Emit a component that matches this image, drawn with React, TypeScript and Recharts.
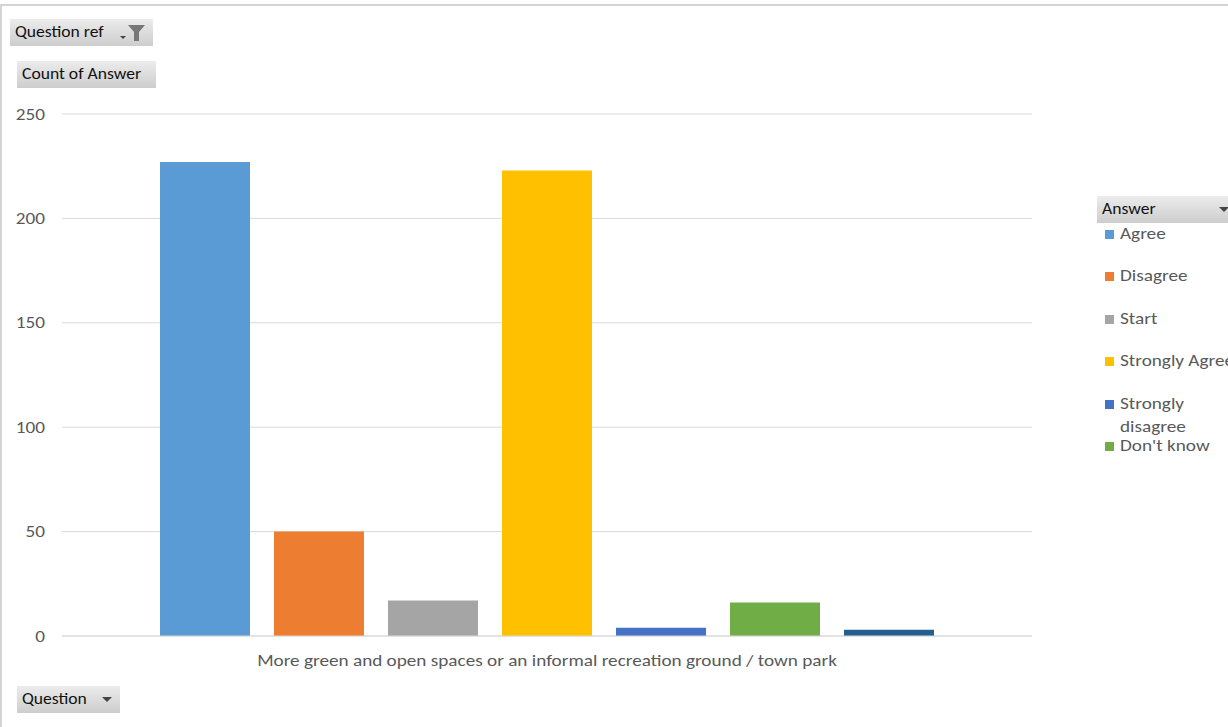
import React from "react"
import { BarChart, Bar, XAxis, YAxis, CartesianGrid } from "recharts"

// pivot chart: count of answers for one question
const question = "More green and open spaces or an informal recreation ground / town park"
const answers = ["Agree", "Disagree", "Start", "Strongly Agree", "Strongly disagree", "Don't know", "(blank)"]
const counts = [227, 50, 17, 223, 4, 16, 3]
const colors = ["#5B9BD5", "#ED7D31", "#A5A5A5", "#FFC000", "#4472C4", "#70AD47", "#255E91"]
const legendAnswers = ["Agree", "Disagree", "Start", "Strongly Agree", "Strongly disagree", "Don't know"]
const yTicks = [0, 50, 100, 150, 200, 250]

const row: Record<string, string | number> = { question }
answers.forEach((a, i) => {
  row[a] = counts[i]
})
const data = [row]

const font = "Carlito, Calibri, Lato, sans-serif"
const stretch = 1.2 // the screenshot is stretched sideways

function XTick(props: any) {
  const { x, y, payload } = props
  return (
    <g transform={`translate(${x},${y + 30})`}>
      <text transform={`scale(${stretch},1)`} textAnchor="middle" fill="#595959" fontSize={16} fontFamily={font}>
        {payload.value}
      </text>
    </g>
  )
}

function YTick(props: any) {
  const { x, y, payload } = props
  return (
    <g transform={`translate(${x},${y + 5.5})`}>
      <text transform={`scale(${stretch},1)`} textAnchor="end" fill="#595959" fontSize={16} fontFamily={font}>
        {payload.value}
      </text>
    </g>
  )
}

function PivotButton({ label, left, top, width, icon }: { label: string; left: number; top: number; width: number; icon?: "filter" | "arrow" }) {
  return (
    <div
      style={{
        position: "absolute",
        left,
        top,
        width,
        height: 27,
        background: "linear-gradient(#ececec, #cdcdcd)",
        boxSizing: "border-box",
        overflow: "hidden",
      }}
    >
      <span
        style={{
          position: "absolute",
          left: 5,
          top: 3,
          fontSize: 16,
          color: "#111",
          whiteSpace: "nowrap",
          transform: "scaleX(1.1)",
          transformOrigin: "left",
        }}
      >
        {label}
      </span>
      {icon === "filter" && (
        <svg style={{ position: "absolute", right: 6, top: 4 }} width="30" height="20" viewBox="0 0 30 20">
          <polygon points="3,13 9,13 6,16" fill="#444" />
          <polygon points="11,2 28,2 22,9 22,18 17,18 17,9" fill="#777" />
        </svg>
      )}
      {icon === "arrow" && (
        <svg style={{ position: "absolute", right: 8, top: 11 }} width="10" height="6" viewBox="0 0 10 6">
          <polygon points="0,0 10,0 5,5" fill="#444" />
        </svg>
      )}
    </div>
  )
}

export default function App() {
  return (
    <div style={{ position: "absolute", left: 0, top: 0, width: 1228, height: 727, overflow: "hidden", background: "#fff", fontFamily: font }}>
      <div style={{ position: "absolute", left: 0, top: 4, width: 1260, height: 760, border: "2px solid #d4d4d4" }} />
      <BarChart
        width={1228}
        height={727}
        data={data}
        margin={{ top: 114, right: 196, bottom: 51, left: 0 }}
        barCategoryGap={98}
        barGap={24}
        style={{ position: "absolute", left: 0, top: 0 }}
      >
        <CartesianGrid vertical={false} stroke="#d9d9d9" />
        <XAxis
          dataKey="question"
          height={40}
          axisLine={{ stroke: "#d9d9d9" }}
          tickLine={false}
          tickSize={0}
          tickMargin={0}
          tick={<XTick />}
        />
        <YAxis
          width={62}
          domain={[0, 250]}
          ticks={yTicks}
          axisLine={false}
          tickLine={false}
          tickSize={0}
          tickMargin={17}
          tick={<YTick />}
        />
        {answers.map((a, i) => (
          <Bar key={a} dataKey={a} fill={colors[i]} isAnimationActive={false} />
        ))}
      </BarChart>
      <PivotButton label="Question ref" left={10} top={19} width={143} icon="filter" />
      <PivotButton label="Count of Answer" left={17} top={61} width={139} />
      <PivotButton label="Answer" left={1097} top={196} width={140} icon="arrow" />
      <PivotButton label="Question" left={17} top={686} width={103} icon="arrow" />
      {legendAnswers.map((a, k) => {
        const i = answers.indexOf(a)
        const center = 235 + k * 42.4
        const words = a === "Strongly disagree" ? ["Strongly", "disagree"] : [a]
        return (
          <div key={a} style={{ position: "absolute", left: 1105, top: center - 5 }}>
            <span style={{ position: "absolute", left: 0, top: 0, width: 9, height: 9, background: colors[i] }} />
            {words.map((w, j) => (
              <span
                key={w}
                style={{
                  position: "absolute",
                  left: 15,
                  top: -6 + j * 23,
                  fontSize: 16,
                  lineHeight: "20px",
                  color: "#595959",
                  whiteSpace: "nowrap",
                  transform: `scaleX(${stretch})`,
                  transformOrigin: "left",
                }}
              >
                {w}
              </span>
            ))}
          </div>
        )
      })}
    </div>
  )
}
